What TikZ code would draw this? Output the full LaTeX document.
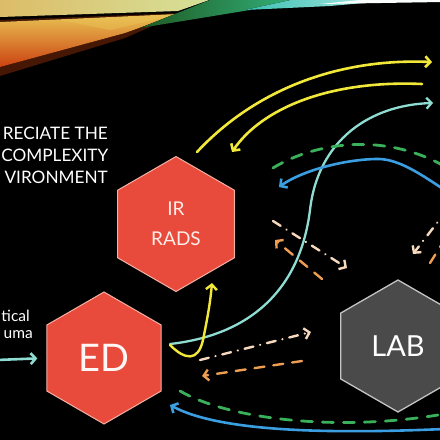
\documentclass[tikz,border=0pt]{standalone}
\usepackage{fontspec}
\setmainfont{Lato}
\usetikzlibrary{shapes.geometric,arrows.meta,fadings}
\definecolor{hexred}{HTML}{E84B3B}
\definecolor{hexredline}{HTML}{F6B0A4}
\definecolor{labgray}{HTML}{4A4A4A}
\definecolor{labline}{HTML}{C4C4C4}
\definecolor{ylw}{HTML}{F2E83A}
\definecolor{teal}{HTML}{8FDCD2}
\definecolor{blu}{HTML}{3A9EE0}
\definecolor{grn}{HTML}{3BB05A}
\definecolor{peach}{HTML}{F7D9BD}
\definecolor{orng}{HTML}{EE9E52}
\definecolor{bandA}{HTML}{DCBC68}
\definecolor{bandB}{HTML}{D6E29A}
\definecolor{wedgeT}{HTML}{E9C254}
\definecolor{wedgeB}{HTML}{CC4210}
\definecolor{greenA}{HTML}{1E5A22}
\definecolor{greenB}{HTML}{34B47E}
\definecolor{cyanA}{HTML}{3CC0B2}
\definecolor{cyanB}{HTML}{C8F2F0}
\tikzset{
  tipbarb/.tip={Straight Barb[length=5pt,width=11pt]},
  redhex/.style={regular polygon,regular polygon sides=6,shape border rotate=30,
    fill=hexred,draw=hexredline,line width=1pt,inner sep=0pt,align=center},
  grayhex/.style={regular polygon,regular polygon sides=6,shape border rotate=30,
    fill=labgray,draw=labline,line width=1.3pt,inner sep=0pt,align=center},
  conn/.style={line width=2.6pt,line cap=round,-tipbarb},
  dashdotline/.style={line width=2.4pt,line cap=round,dash pattern=on 9pt off 7pt on 0.01pt off 7pt},
  dashline/.style={line width=2.4pt,line cap=round,dash pattern=on 10pt off 9pt},
  greendash/.style={line width=2.8pt,line cap=round,dash pattern=on 11pt off 10pt},
  slidetext/.style={text=white,inner sep=0pt}
}
\begin{document}
\begin{tikzpicture}[x=1pt,y=-1pt]
\useasboundingbox (0,0) rectangle (440,440);
\fill[black] (0,0) rectangle (440,440);
\begin{scope}
\clip (0,0) rectangle (440,440);
% banner streaks
\fill[left color=bandA, right color=bandB] (0,-2) -- (215,-2) -- (178,11) -- (0,17) -- cycle;
\fill[wedgeB, opacity=0.35] (0,20) -- (182,13) -- (125,38) -- (0,76) -- cycle;
\fill[top color=wedgeT, bottom color=wedgeB] (0,22) -- (178,14) -- (125,33) -- (0,67) -- cycle;
\fill[wedgeT, opacity=0.5] (60,20) -- (180,14) -- (110,30) -- cycle;
\fill[left color=greenA, right color=greenB] (140,28) -- (215,-2) -- (300,-2) -- (250,10) -- cycle;
\fill[left color=cyanA, right color=cyanB] (245,10) -- (300,-2) -- (420,-2) -- (330,6) -- cycle;
\fill[white!90!cyanB] (320,4) -- (380,-2) -- (442,-2) -- (442,2) -- cycle;
\end{scope}

% hexagons
\node[redhex, minimum size=135pt, text=white!90!hexred,
  font=\fontsize{19}{30}\selectfont] (ir) at (176,224) {IR\\RADS};
\node[redhex, minimum size=132pt, text=white!95!hexred,
  font=\fontsize{38}{40}\selectfont] (ed) at (104,358) {ED};
\node[grayhex, minimum size=132pt, text=white,
  font=\fontsize{29}{32}\selectfont] (lab) at (398,346) {LAB};

% left texts
\node[slidetext, anchor=east, font=\fontsize{17.2}{20}\selectfont] (t1) at (108,133) {RECIATE THE};
\node[slidetext, anchor=east, font=\fontsize{17.2}{20}\selectfont] (t2) at (108.5,155) {COMPLEXITY};
\node[slidetext, anchor=east, font=\fontsize{17.2}{20}\selectfont] (t3) at (108,177) {VIRONMENT};
\node[slidetext, anchor=east, font=\fontsize{15.5}{18}\selectfont] (t4) at (30,316) {tical};
\node[slidetext, anchor=east, font=\fontsize{15.5}{18}\selectfont] (t5) at (33,335) {uma};

% endpoint coordinates
\coordinate (inl) at (-3,360);
\coordinate (yaS) at (197,152);
\coordinate (yaE) at (432,62);
\coordinate (ybS) at (422,84);
\coordinate (ybE) at (232,152);
\coordinate (cyS) at (170,344);
\coordinate (cyE) at (433,103);
\coordinate (ysS) at (170,345);
\coordinate (ysE) at (212,283);
\coordinate (btS) at (443,189);
\coordinate (btE) at (279,187);
\coordinate (gtS) at (273,168);
\coordinate (gtE) at (444,166);
\coordinate (bbS) at (444,429);
\coordinate (bbE) at (170,405);
\coordinate (gbS) at (180,391);
\coordinate (gbE) at (444,414);
\coordinate (pdS) at (200,360);
\coordinate (pdE) at (311,332);
\coordinate (odS) at (302,361);
\coordinate (odE) at (202,376);
\coordinate (pmS) at (273,221);
\coordinate (pmE) at (347,268);
\coordinate (omS) at (322,279);
\coordinate (omE) at (275,240);
\coordinate (prS) at (447,210);
\coordinate (prE) at (413,254);
\coordinate (orS) at (430,263);
\coordinate (orE) at (447,236);

% connectors
\draw[conn, teal] (inl) -- (ed.west) [shorten >=9pt];
\draw[conn, ylw] (yaS) .. controls (250,95) and (330,58) .. (yaE);
\draw[conn, ylw] (ybS) .. controls (330,80) and (262,108) .. (ybE);
\draw[conn, teal, line width=2.3pt] (cyS) .. controls (250,335) and (300,290) .. (310,210)
   .. controls (318,140) and (370,105) .. (cyE);
\draw[conn, ylw, line width=2.4pt] (ysS) .. controls (185,360) and (198,362) .. (203,340)
   .. controls (207,320) and (210,305) .. (ysE);
\draw[conn, blu] (btS) .. controls (415,170) and (395,158) .. (375,159)
   .. controls (340,160) and (300,172) .. (btE);
\draw[greendash, grn] (gtS) .. controls (310,145) and (380,130) .. (gtE);
\draw[conn, blu] (bbS) .. controls (330,434) and (220,432) .. (bbE);
\draw[greendash, grn] (gbS) .. controls (230,420) and (340,432) .. (gbE);
\draw[dashdotline, peach, -tipbarb] (pdS) -- (pdE);
\draw[dashline, orng, -tipbarb] (odS) -- (odE);
\draw[dashdotline, peach, -tipbarb] (pmS) -- (pmE);
\draw[dashline, orng, -tipbarb] (omS) -- (omE);
\draw[dashdotline, peach, -tipbarb] (prS) -- (prE);
\draw[dashline, orng] (orS) -- (orE);
\end{tikzpicture}
\end{document}
